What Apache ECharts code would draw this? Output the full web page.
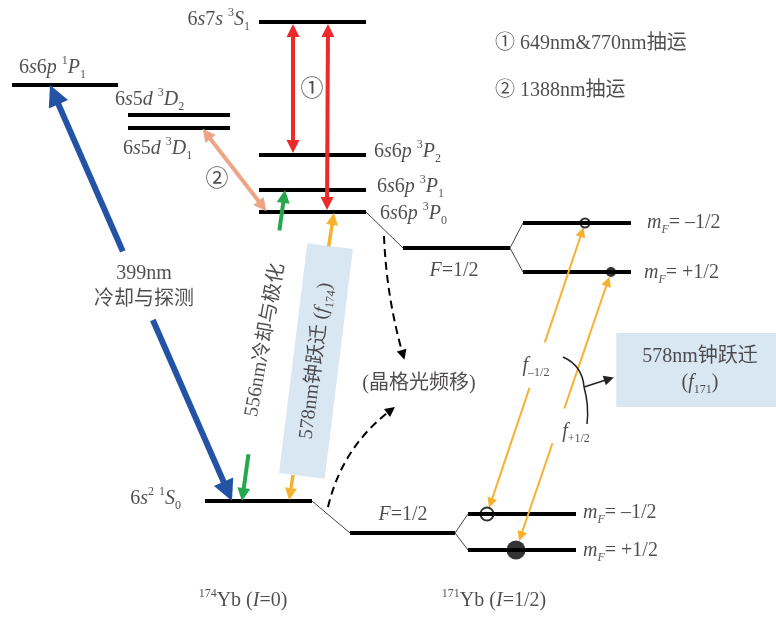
<!DOCTYPE html>
<html>
<head>
<meta charset="utf-8">
<script src="https://cdn.jsdelivr.net/npm/echarts@6/dist/echarts.min.js"></script>
<style>
  html, body { margin: 0; padding: 0; background: #fff; }
  #chart { width: 776px; height: 617px; }
</style>
</head>
<body>
<div id="chart"></div>
<script>
// Yb energy levels, diagram units (y grows downward)
const levelNames = ['3S1', '1P1', '3D2', '3D1', '3P2', '3P1', '3P0', '1S0',
  '3P0 F', '3P0 m-', '3P0 m+', '1S0 F', '1S0 m-', '1S0 m+'];
const levelStart = [259, 12, 128, 128, 259, 259, 259, 205, 403, 523, 523, 350, 468, 468];
const levelEnd = [366, 118, 230, 230, 366, 366, 366, 312, 510, 631, 631, 455, 576, 576];
const levelY = [22, 85, 115, 128, 155, 190, 212, 501, 248, 223, 272, 533, 514, 550];

// hyperfine / Zeeman splitting connectors
const splitFrom = ['3P0', '3P0 F', '3P0 F', '1S0', '1S0 F', '1S0 F'];
const splitTo = ['3P0 F', '3P0 m-', '3P0 m+', '1S0 F', '1S0 m-', '1S0 m+'];

// transitions (lower level + x, upper level + x)
const transNames = ['399nm', '556nm', '578nm-174', '649nm', '770nm', '1388nm', 'f-1/2', 'f+1/2'];
const transLower = ['1S0', '1S0', '1S0', '3P2', '3P0', '3P0', '1S0 m-', '1S0 m+'];
const transLowerX = [232, 242, 289, 293, 327, 267, 487, 516];
const transUpper = ['1P1', '3P1', '3P0', '3S1', '3S1', '3D1', '3P0 m-', '3P0 m+'];
const transUpperX = [50, 285, 334, 293, 328, 202, 585, 611];
// drawn pieces of each transition, as fractions from lower to upper
const transParts = [
  [[0, 0.435], [0.6, 1]],
  [[0, 0.15], [0.87, 1]],
  [[0, 0.09], [0.88, 1]],
  [[0, 1]],
  [[0, 1]],
  [[0, 1]],
  [[0, 0.434], [0.59, 1]],
  [[0, 0.384], [0.509, 1]]
];

// population markers on the 171Yb sublevels
const markerLevel = ['3P0 m-', '3P0 m+', '1S0 m-', '1S0 m+'];
const markerX = [585, 611, 487, 516];
const markerFilled = [false, true, false, true];

const ink = '#231f20';
const serif = '"Liberation Serif", "Noto Sans CJK SC", serif';
const ORANGE = '#f6b22e';

// colour, line width, head size, gap to level
const transStyle = {
  '399nm': ['#2353a4', 6, 21, 0],
  '556nm': ['#25a84b', 4, 13, 0],
  '578nm-174': [ORANGE, 3.5, 12, 1],
  '649nm': ['#ec2a2b', 4, 13, 2],
  '770nm': ['#ec2a2b', 4, 13, 2],
  '1388nm': ['#eda585', 4, 13, 1],
  'f-1/2': [ORANGE, 2, 10, 0],
  'f+1/2': [ORANGE, 2, 10, 0]
};
const markerSize = [9, 10, 13, 19];

const lvl = name => levelNames.indexOf(name);
const markerRadius = (level, x) => {
  const k = markerLevel.findIndex((l, j) => l === level && markerX[j] === x);
  return k < 0 ? 0 : markerSize[k] / 2;
};

const levelData = levelNames.map((n, i) => ({
  name: n,
  coords: [[levelStart[i], levelY[i]], [levelEnd[i], levelY[i]]]
}));

const splitData = splitFrom.map((f, i) => {
  const a = lvl(f), b = lvl(splitTo[i]);
  return { coords: [[levelEnd[a], levelY[a]], [levelStart[b], levelY[b]]] };
});

const arrowData = [];
transNames.forEach((t, i) => {
  const [color, width, head, gap] = transStyle[t];
  const x0 = transLowerX[i], y0 = levelY[lvl(transLower[i])];
  const x1 = transUpperX[i], y1 = levelY[lvl(transUpper[i])];
  const len = Math.hypot(x1 - x0, y1 - y0);
  const ux = (x1 - x0) / len, uy = (y1 - y0) / len;
  const in0 = head / 2 + gap + markerRadius(transLower[i], x0);
  const in1 = head / 2 + gap + markerRadius(transUpper[i], x1);
  transParts[i].forEach(([a, b]) => {
    const ta = a * len + (a === 0 ? in0 : 0);
    const tb = b * len - (b === 1 ? in1 : 0);
    arrowData.push({
      name: t,
      coords: [[x0 + ux * ta, y0 + uy * ta], [x0 + ux * tb, y0 + uy * tb]],
      symbol: [a === 0 ? 'triangle' : 'none', b === 1 ? 'triangle' : 'none'],
      symbolSize: head,
      lineStyle: { color, width, opacity: 1, curveness: 0 }
    });
  });
});

const markerData = markerLevel.map((l, i) => ({
  value: [markerX[i], levelY[lvl(l)]],
  symbolSize: markerSize[i],
  itemStyle: markerFilled[i]
    ? { color: '#000' }
    : { color: 'rgba(255,255,255,0)', borderColor: '#000', borderWidth: 2 }
}));

// lattice light shift annotation arrows + brace
const dashData = [
  { coords: [[384, 236], [403, 355]], lineStyle: { curveness: -0.06 } },
  { coords: [[328, 507], [391, 410]], lineStyle: { curveness: 0.18 } }
];
const braceData = [
  { coords: [[563, 357], [584, 387]], lineStyle: { curveness: 0.3 } },
  { coords: [[584, 387], [587, 424]], lineStyle: { curveness: 0.1 } },
  { coords: [[584, 387], [609, 379]], symbol: ['none', 'triangle'], symbolSize: 10, lineStyle: { curveness: 0 } }
];

const rich = {
  r: { fontSize: 20, lineHeight: 26, fontFamily: serif, color: ink },
  i: { fontSize: 20, lineHeight: 26, fontStyle: 'italic', fontFamily: serif, color: ink },
  sup: { fontSize: 12, lineHeight: 12, verticalAlign: 'top', fontFamily: serif, color: ink },
  sub: { fontSize: 12, lineHeight: 12, verticalAlign: 'bottom', fontFamily: serif, color: ink },
  subi: { fontSize: 12, lineHeight: 12, verticalAlign: 'bottom', fontStyle: 'italic', fontFamily: serif, color: ink },
  big: { fontSize: 23, lineHeight: 26, fontFamily: serif, color: ink }
};

const T = (text, x, y, align, extra) => ({
  name: text,
  value: [x, y],
  label: Object.assign({ align: align || 'center' }, extra || {})
});

const textData = [
  T('{r|6}{i|s}{r|7}{i|s} {sup|3}{i|S}{sub|1}', 250, 20, 'right'),
  T('{r|6}{i|s}{r|6}{i|p} {sup|1}{i|P}{sub|1}', 19, 68, 'left'),
  T('{r|6}{i|s}{r|5}{i|d} {sup|3}{i|D}{sub|2}', 115, 100, 'left'),
  T('{r|6}{i|s}{r|5}{i|d} {sup|3}{i|D}{sub|1}', 123, 149, 'left'),
  T('{r|6}{i|s}{r|6}{i|p} {sup|3}{i|P}{sub|2}', 374, 152, 'left'),
  T('{r|6}{i|s}{r|6}{i|p} {sup|3}{i|P}{sub|1}', 377, 187, 'left'),
  T('{r|6}{i|s}{r|6}{i|p} {sup|3}{i|P}{sub|0}', 380, 214, 'left'),
  T('{r|6}{i|s}{sup|2} {sup|1}{i|S}{sub|0}', 181, 499, 'right'),
  T('{i|F}{r|=1/2}', 454, 271),
  T('{i|F}{r|=1/2}', 403, 515),
  T('{i|m}{subi|F}{r|= –1/2}', 647, 223, 'left'),
  T('{i|m}{subi|F}{r|= +1/2}', 644, 273, 'left'),
  T('{i|m}{subi|F}{r|= –1/2}', 583, 513, 'left'),
  T('{i|m}{subi|F}{r|= +1/2}', 583, 551, 'left'),
  T('{sup|174}{r|Yb (}{i|I}{r|=0)}', 243, 601),
  T('{sup|171}{r|Yb (}{i|I}{r|=1/2)}', 494, 601),
  T('{r|① 649nm&770nm抽运}', 495, 44, 'left'),
  T('{r|② 1388nm抽运}', 495, 91, 'left'),
  T('{big|①}', 312, 90),
  T('{big|②}', 217, 180),
  T('{r|399nm}\n{r|冷却与探测}', 144, 287),
  T('{r|(晶格光频移)}', 419, 384),
  T('{r|556nm冷却与极化}', 265, 340, 'center', { rotate: 80 }),
  T('{r|578nm钟跃迁 (}{i|f}{sub|174}{r|)}', 316, 361, 'center',
    { rotate: 83, backgroundColor: '#cfe1f0', padding: [10, 37] }),
  T('{i|f}{sub|–1/2}', 536, 366),
  T('{i|f}{sub|+1/2}', 576, 432),
  T('{r|578nm钟跃迁}\n{r|(}{i|f}{sub|171}{r|)}', 700, 370, 'center',
    { backgroundColor: '#cfe1f0', padding: [11, 26] })
];

const chart = echarts.init(document.getElementById('chart'));
chart.setOption({
  animation: false,
  backgroundColor: '#fff',
  grid: { left: 0, right: 0, top: 0, bottom: 0 },
  xAxis: { type: 'value', min: 0, max: 776, show: false },
  yAxis: { type: 'value', min: 0, max: 617, inverse: true, show: false },
  series: [
    {
      type: 'lines',
      coordinateSystem: 'cartesian2d',
      z: 2,
      symbol: 'none',
      lineStyle: { color: '#000', width: 4, opacity: 1 },
      data: levelData
    },
    {
      type: 'lines',
      coordinateSystem: 'cartesian2d',
      z: 2,
      symbol: 'none',
      lineStyle: { color: '#444', width: 1, opacity: 1 },
      data: splitData
    },
    {
      type: 'lines',
      coordinateSystem: 'cartesian2d',
      z: 3,
      data: arrowData
    },
    {
      type: 'lines',
      coordinateSystem: 'cartesian2d',
      z: 3,
      symbol: ['none', 'triangle'],
      symbolSize: 10,
      lineStyle: { color: '#000', width: 2, type: [8, 5], opacity: 1 },
      data: dashData
    },
    {
      type: 'lines',
      coordinateSystem: 'cartesian2d',
      z: 3,
      symbol: 'none',
      lineStyle: { color: '#222', width: 1.5, opacity: 1 },
      data: braceData
    },
    {
      type: 'scatter',
      z: 4,
      symbol: 'circle',
      data: markerData
    },
    {
      type: 'scatter',
      z: 5,
      symbolSize: 1,
      itemStyle: { color: 'rgba(0,0,0,0)' },
      label: {
        show: true,
        position: 'inside',
        verticalAlign: 'middle',
        fontFamily: serif,
        fontSize: 20,
        color: ink,
        rich,
        formatter: p => p.name
      },
      data: textData
    }
  ]
});
window.addEventListener('resize', () => chart.resize());
</script>
</body>
</html>
